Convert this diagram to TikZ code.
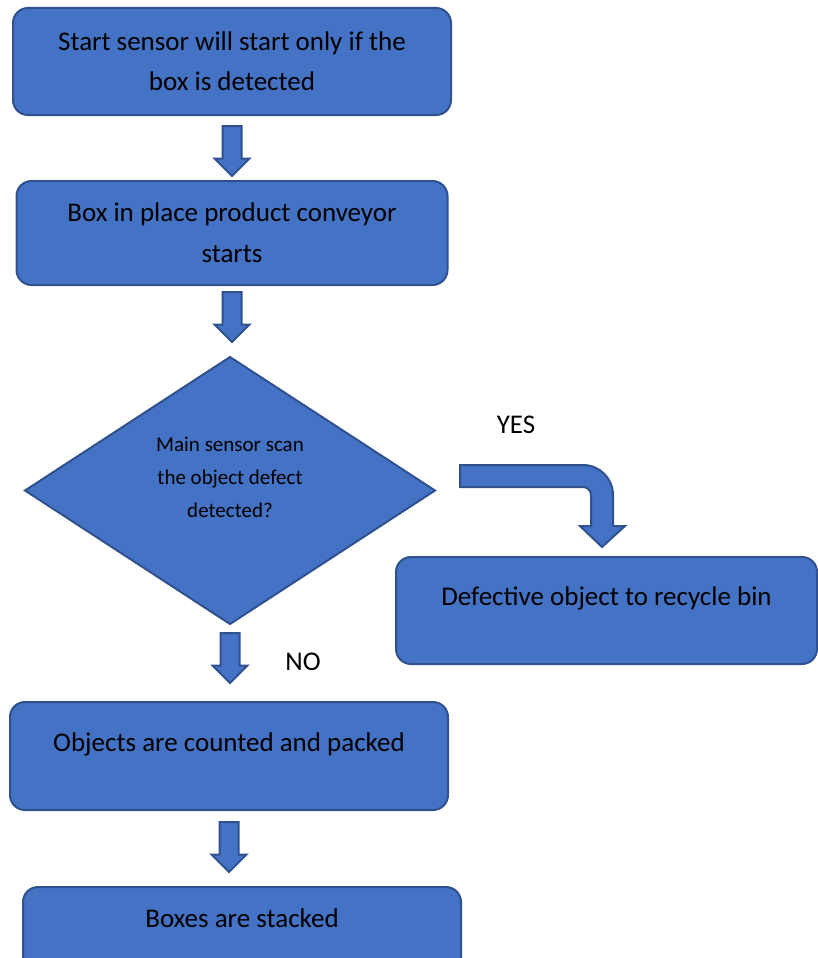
\documentclass[tikz,border=0pt]{standalone}
\usepackage{fontspec}
\setmainfont{Carlito}
\usetikzlibrary{positioning,shapes.geometric,shapes.arrows}
\definecolor{boxblue}{HTML}{4472C4}
\definecolor{edgeblue}{HTML}{2F528F}
\tikzset{
    %Define style for process boxes
    stepbox/.style={
           rectangle,
           rounded corners=15pt,
           draw=edgeblue, line width=2pt,
           fill=boxblue,
           inner sep=0pt, outer sep=0pt,
           minimum width=438pt,
           minimum height=107pt,
           align=center,
           font=\fontsize{27}{40}\selectfont},
    %Define style for the decision
    decision/.style={
           diamond,
           draw=edgeblue, line width=2pt,
           fill=boxblue,
           inner sep=0pt, outer sep=0pt,
           minimum width=410pt,
           minimum height=267pt,
           align=center,
           font=\fontsize{21}{33}\selectfont},
    % Define block arrow styles
    downarrow/.style={
           single arrow,
           shape border rotate=270,
           draw=edgeblue, line width=2pt,
           fill=boxblue,
           inner sep=8.5pt, outer sep=0pt,
           minimum width=33pt,
           minimum height=50pt,
           single arrow head extend=8pt},
    bentarrow/.style={
           draw=edgeblue, line width=2pt,
           fill=boxblue},
    answer/.style={
           inner sep=0pt,
           font=\fontsize{27}{30}\selectfont}
}
\begin{document}
\begin{tikzpicture}[x=1pt,y=1pt]
\useasboundingbox (0,0) rectangle (818,-958);
\node[stepbox](start) at (232,-61.5){Start sensor will start only if the\\box is detected};
\node[downarrow, below=11pt of start](a1){};
\node[stepbox, below=5pt of a1, minimum width=431pt, minimum height=104pt](conveyor){Box in place product conveyor\\[1pt]starts};
\node[downarrow, below=7pt of conveyor](a2){};
\node[decision, below=15pt of a2, xshift=-2pt](scan){Main sensor scan\\the object defect\\detected?\\[-6pt]\mbox{}};
\node[downarrow, below=9pt of scan](a3){};
\node[stepbox, below=19pt of a3, xshift=-1pt, minimum height=108pt](count){Objects are counted and packed\\[-12pt]\mbox{}};
\node[downarrow, below=12pt of count](a4){};
\node[stepbox, below=15pt of a4, xshift=13pt, minimum height=108pt](stack){Boxes are stacked\\[6pt]\mbox{}};
\node[stepbox, minimum width=421pt](recycle) at (606.5,-610.5){Defective object to recycle bin\\[-12pt]\mbox{}};
\node[answer](yes) at (516,-425){YES};
\node[answer](no) at (303,-662){NO};
% bent arrow for the YES branch
\coordinate (bend) at (460,-465);
\draw[bentarrow] (bend) -- ++(123,0) arc[start angle=90, end angle=0, radius=30]
	-- ++(0,-31) -- ++(12,0) -- ++(-23,-21) -- ++(-22,21) -- ++(11,0)
	-- ++(0,31) arc[start angle=0, end angle=90, radius=8] -- ++(-123,0) -- cycle;
\end{tikzpicture}
\end{document}
